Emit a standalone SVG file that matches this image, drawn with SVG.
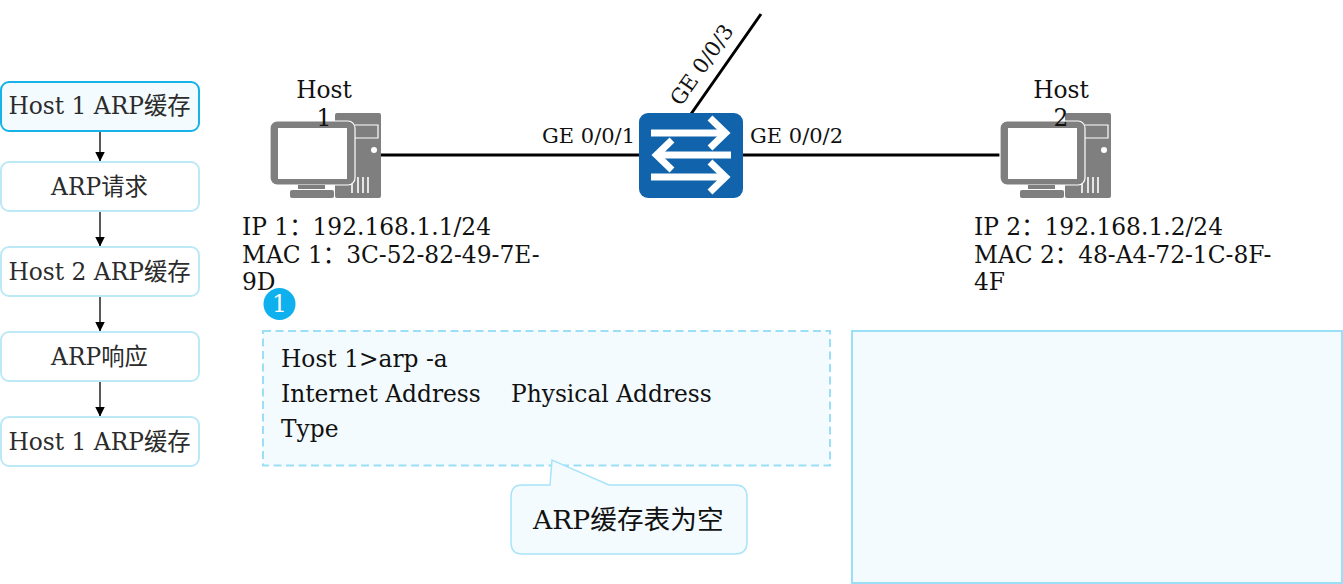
<svg xmlns="http://www.w3.org/2000/svg" width="1343" height="584" viewBox="0 0 1343 584">
<style>
text{font-family:"DejaVu Serif","Noto Sans CJK SC",serif;fill:#1a1a1a}
.s{font-size:23.33px;text-anchor:middle;fill:#2b2b2b}
.h{font-size:23.33px;text-anchor:middle;fill:#111}
.i{font-size:23.33px;fill:#111}
.p{font-size:21px;fill:#111}
.step{fill:#fff;stroke:#bde9f7;stroke-width:2}
.link{stroke:#000;stroke-width:3;fill:none}
.a{stroke:#000;stroke-width:1.3;fill:none;marker-end:url(#ah)}
.g{fill:#7f7f7f}
.w{fill:#fff}
.sw{stroke:#fff;stroke-width:7;fill:none;stroke-linecap:butt}
</style>
<defs>
<marker id="ah" markerUnits="userSpaceOnUse" markerWidth="10" markerHeight="11" refX="9.5" refY="5" orient="auto"><path d="M0 0L10 5L0 10Z" fill="#000"/></marker>
<g id="pc">
<rect class="g" x="66" y="0" width="46" height="85" rx="2"/>
<path d="M86 12H109V25H86" fill="none" stroke="#fff" stroke-width="1.2"/>
<circle class="w" cx="105" cy="37" r="3"/>
<path d="M83 80V66M89 80V64M94 80V64M99 80V64" stroke="#fff" stroke-width="1.6" fill="none"/>
<rect class="g" x="1" y="8" width="85" height="64" rx="7" stroke="#fff" stroke-width="1.2"/>
<rect class="w" x="9" y="15" width="69" height="51"/>
<rect class="g" x="29" y="72" width="27" height="4"/>
<rect class="g" x="21" y="77" width="44" height="8" rx="2"/>
</g>
</defs>

<g id="connectors">
<path class="link" d="M381 155H640M743 155H1001M691 114L761 14"/>
<path class="a" d="M100 131V161"/>
<path class="a" d="M100 212V246"/>
<path class="a" d="M100 297V331"/>
<path class="a" d="M100 382V416"/>
</g>

<g id="step1"><rect x="1" y="82" width="198" height="49" rx="8" fill="#f3fbfe" stroke="#17b2e8" stroke-width="2"/><text class="s" x="99.500" y="114">Host 1 ARP缓存</text></g>
<g id="step2"><rect class="step" x="1" y="162" width="198" height="49" rx="8"/><text class="s" x="99.500" y="195">ARP请求</text></g>
<g id="step3"><rect class="step" x="1" y="247" width="198" height="49" rx="8"/><text class="s" x="99.500" y="280">Host 2 ARP缓存</text></g>
<g id="step4"><rect class="step" x="1" y="332" width="198" height="49" rx="8"/><text class="s" x="99.500" y="365">ARP响应</text></g>
<g id="step5"><rect class="step" x="1" y="417" width="198" height="49" rx="8"/><text class="s" x="99.500" y="450">Host 1 ARP缓存</text></g>

<g id="host1">
<use href="#pc" x="269" y="113"/>
<text class="h" x="324" y="98">Host</text><text class="h" x="324" y="126">1</text>
<text class="i" x="242" y="235">IP 1：192.168.1.1/24</text>
<text class="i" x="242" y="263">MAC 1：3C-52-82-49-7E-</text>
<text class="i" x="242" y="290">9D</text>
</g>

<g id="switch">
<rect x="639" y="113" width="104" height="85" rx="9" fill="#1164ab"/>
<path class="sw" d="M651 133H726M651 177H726M656 155H731"/>
<path class="sw" d="M710 118L725.500 133L710 148M710 162L725.500 177L710 192M672 140L656.500 155L672 170"/>
</g>

<g id="host2">
<use href="#pc" x="999" y="113"/>
<text class="h" x="1061" y="98">Host</text><text class="h" x="1061" y="126">2</text>
<text class="i" x="974" y="235">IP 2：192.168.1.2/24</text>
<text class="i" x="974" y="263">MAC 2：48-A4-72-1C-8F-</text>
<text class="i" x="974" y="290">4F</text>
</g>

<g id="port-labels">
<text class="p" x="542" y="143">GE 0/0/1</text>
<text class="p" x="750" y="143">GE 0/0/2</text>
<text class="p" transform="translate(681 107) rotate(-55)">GE 0/0/3</text>
</g>

<g id="badge"><circle cx="279.500" cy="304" r="16" fill="#0eb0ee"/><text x="279.500" y="312" font-size="23.330" text-anchor="middle" style="fill:#fff">1</text></g>

<g id="terminal">
<rect x="263" y="331" width="567" height="134.500" fill="#f3fbfe" stroke="#9adff6" stroke-width="2" stroke-dasharray="8 4.500"/>
<text class="i" x="281" y="367">Host 1&gt;arp -a</text>
<text class="i" x="281" y="402">Internet Address</text><text class="i" x="511" y="402">Physical Address</text>
<text class="i" x="281" y="437">Type</text>
</g>

<g id="callout">
<path d="M522 485H550L552 460L609 485H735Q747 485 747 497V542Q747 554 735 554H522Q511 554 511 542V497Q511 485 522 485Z" fill="#f3fbfe" stroke="#a8e3f8" stroke-width="1.500"/>
<text x="533" y="529" font-size="26.670" style="fill:#111">ARP缓存表为空</text>
</g>

<g id="panel"><rect x="852" y="331" width="490" height="252" fill="#f3fbfe" stroke="#9adff6" stroke-width="2"/></g>
</svg>
